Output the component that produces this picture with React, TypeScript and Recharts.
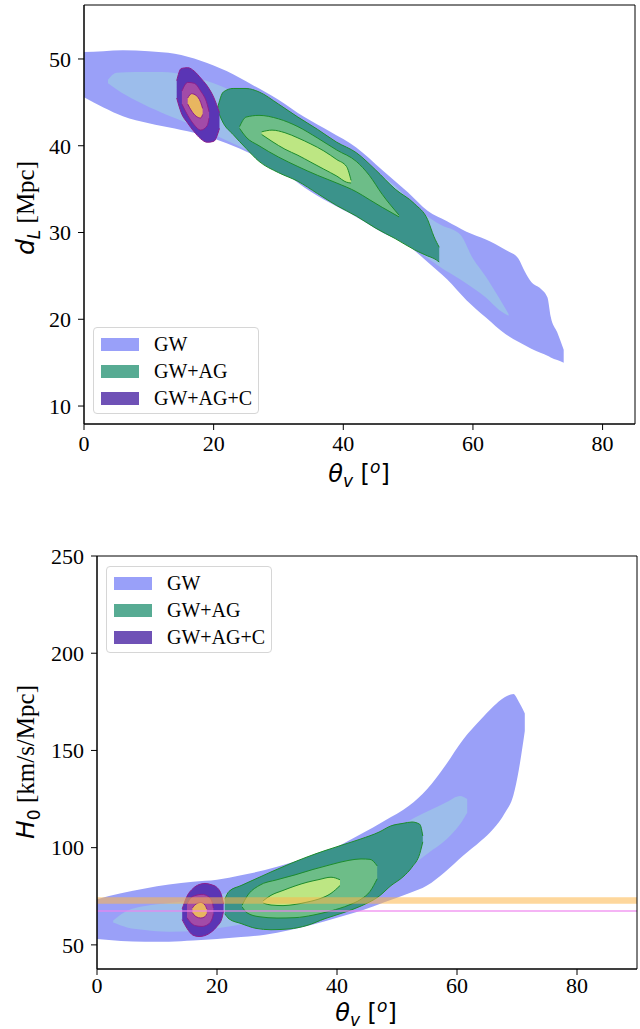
import React from "react";
import { ComposedChart, Area, XAxis, YAxis, ReferenceArea } from "recharts";

// each contour level: [theta_v, lower edge, upper edge]
type Pt = [number, number, number];

// ---- luminosity distance vs viewing angle ----
const gwOuterDL: Pt[] = [
  [0, 45.6, 50.8], [3, 44.4, 50.9], [6, 43.4, 51.0], [10, 42.6, 50.9], [14, 42.0, 50.6],
  [18, 41.3, 49.8], [22, 40.3, 48.6], [26, 39.0, 47.0], [30, 37.4, 45.3], [34, 35.2, 43.3],
  [38, 33.4, 41.6], [42, 31.8, 39.8], [46, 30.0, 37.2], [50, 28.5, 34.6], [53, 26.6, 32.5],
  [56, 24.6, 31.3], [59, 22.2, 30.1], [62, 20.2, 29.2], [65, 18.3, 28.0], [67, 17.4, 27.0],
  [68, 17.0, 25.5], [69, 16.6, 24.3], [70.5, 16.1, 23.5], [71.5, 15.8, 22.5], [72, 15.6, 20.3],
  [73, 15.3, 18.5], [74, 15.0, 16.5],
];
const gwInnerDL: Pt[] = [
  [3.7, 47.2, 47.6], [5, 46.5, 48.4], [8, 45.2, 48.5], [12, 43.8, 48.5], [16, 42.6, 48.1],
  [20, 41.3, 47.2], [24, 39.9, 45.9], [28, 38.3, 44.4], [32, 36.6, 42.8], [36, 35.0, 41.1],
  [40, 33.2, 39.3], [44, 31.4, 37.4], [48, 29.6, 35.4], [52, 27.6, 32.4], [55, 26.0, 30.9],
  [58, 24.6, 29.8], [60, 23.6, 27.0], [62, 22.5, 24.9], [64, 21.1, 22.5], [65.5, 20.4, 20.6],
];
const agOuterDL: Pt[] = [
  [20.6, 44.1, 44.3], [21.5, 42.6, 46.2], [23, 41.3, 46.6], [25, 39.7, 46.6], [27, 38.2, 46.2],
  [30, 36.9, 44.8], [33, 35.9, 43.3], [36, 34.5, 41.9], [39, 33.1, 40.4], [42, 31.9, 39.2],
  [45, 30.5, 37.2], [48, 29.3, 35.0], [51, 28.0, 33.3], [53, 27.3, 31.5], [54, 27.0, 29.5],
  [54.8, 26.6, 28.3],
];
const agMidDL: Pt[] = [
  [24, 42.0, 42.2], [25, 41.0, 43.3], [27, 40.0, 43.5], [30, 38.7, 43.1], [33, 37.6, 42.2],
  [36, 36.6, 40.9], [39, 35.7, 39.5], [42, 34.7, 38.2], [44, 33.8, 36.6], [46, 32.9, 34.4],
  [48.6, 31.8, 32.0],
];
const agInnerDL: Pt[] = [
  [27.4, 41.3, 41.6], [29, 40.5, 41.8], [31, 39.6, 41.5], [33, 38.9, 40.9], [35, 38.1, 40.2],
  [37, 37.3, 39.4], [39, 36.5, 38.4], [40.5, 35.8, 37.6], [41.2, 35.7, 36.0],
];
const cOuterDL: Pt[] = [
  [14.3, 45.5, 47.5], [15, 43.8, 48.9], [16, 42.6, 49.0], [17, 41.6, 48.6], [18, 40.8, 47.8],
  [19, 40.4, 46.9], [20, 40.5, 45.6], [20.9, 42.0, 43.8],
];
const cMidDL: Pt[] = [
  [15.1, 44.8, 46.3], [16, 43.5, 47.3], [17, 42.4, 47.2], [18, 41.8, 46.3], [19, 42.3, 44.8],
  [19.3, 43.2, 43.9],
];
const cInnerDL: Pt[] = [
  [16, 44.8, 45.5], [16.6, 44.0, 46.0], [17.3, 43.4, 45.8], [18, 43.2, 45.0], [18.3, 43.6, 44.3],
];

// ---- Hubble constant vs viewing angle ----
const gwOuterH0: Pt[] = [
  [0, 53.0, 73.5], [4, 52.0, 76.5], [8, 51.6, 79.0], [12, 51.6, 81.0], [16, 52.2, 82.5],
  [20, 53.0, 83.5], [24, 54.0, 85.8], [28, 55.2, 88.5], [32, 57.5, 92.0], [36, 60.5, 96.0],
  [40, 64.0, 100.5], [44, 67.5, 107.0], [48, 72.0, 114.0], [52, 76.5, 121.5], [55, 80.5, 130.0],
  [58, 87.5, 142.0], [61, 95.8, 155.5], [64, 103.5, 166.0], [66, 109.5, 172.5], [68, 118.0, 177.5],
  [69.4, 127.0, 179.0], [70.3, 140.0, 175.0], [71.3, 160.0, 169.0],
];
const gwInnerH0: Pt[] = [
  [2.7, 61.5, 62.5], [5, 59.0, 67.5], [8, 57.7, 70.0], [12, 56.8, 71.5], [16, 57.0, 73.0],
  [20, 58.5, 75.5], [24, 60.5, 78.5], [28, 62.5, 82.0], [32, 65.0, 86.5], [36, 68.0, 91.5],
  [40, 71.5, 96.5], [44, 75.5, 102.0], [47, 79.5, 106.0], [50, 85.0, 110.0], [53, 92.0, 115.5],
  [56, 99.0, 120.0], [58.3, 104.5, 123.5], [60.5, 112.0, 126.6], [61.7, 118.0, 125.0],
];
const agOuterH0: Pt[] = [
  [21.3, 66.0, 73.5], [22, 63.4, 77.5], [24, 61.0, 80.5], [26.5, 58.5, 84.0], [29, 57.8, 87.5],
  [32, 58.2, 91.5], [35, 60.0, 95.2], [38, 63.5, 98.5], [41, 66.5, 101.5], [44, 70.0, 104.5],
  [47, 75.0, 108.0], [49, 80.5, 111.2], [51, 85.0, 112.5], [52.5, 90.0, 113.2], [53.8, 97.0, 112.0],
  [54.3, 103.0, 106.0],
];
const agMidH0: Pt[] = [
  [24.2, 69.5, 70.5], [25, 66.5, 75.0], [27, 64.5, 80.5], [30, 63.8, 83.5], [33, 64.0, 86.0],
  [36, 65.3, 88.8], [39, 67.5, 91.3], [42, 70.5, 93.5], [44, 73.5, 94.2], [45.5, 77.5, 94.0],
  [46.7, 84.0, 90.6],
];
const agInnerH0: Pt[] = [
  [27.7, 71.5, 72.7], [29, 70.5, 75.5], [31, 70.2, 78.0], [33, 70.8, 80.3], [35, 72.0, 82.2],
  [37, 73.6, 83.6], [39, 76.5, 84.8], [40.5, 80.5, 83.5],
];
const cOuterH0: Pt[] = [
  [14.2, 63.0, 68.5], [15, 58.5, 75.0], [16, 55.0, 79.0], [17, 54.3, 81.0], [18, 54.8, 81.6],
  [19, 56.5, 81.0], [20, 59.5, 79.5], [20.8, 63.5, 75.0], [21.1, 67.5, 71.0],
];
const cMidH0: Pt[] = [
  [15, 64.0, 71.0], [15.6, 61.5, 74.0], [16.5, 59.8, 75.5], [17.5, 59.5, 76.0], [18.5, 60.5, 75.0],
  [19.2, 63.5, 72.0], [19.4, 66.0, 69.0],
];
const cInnerH0: Pt[] = [
  [15.9, 66.5, 69.0], [16.5, 64.5, 71.0], [17.3, 63.8, 71.8], [18, 64.5, 70.5], [18.3, 66.0, 68.5],
];

// local (SH0ES-like) and CMB (Planck-like) H0 bands
const h0BandLocal = [71.1, 74.5];
const h0BandCMB = [66.9, 68.0];

const xTicksDL = [0, 20, 40, 60, 80];
const yTicksDL = [10, 20, 30, 40, 50];
const xTicksH0 = [0, 20, 40, 60, 80];
const yTicksH0 = [50, 100, 150, 200, 250];

const legendNames = ["GW", "GW+AG", "GW+AG+C"];
const legendColors = ["#99a0f9", "#57ab93", "#6f51b6"];

// fill / edge colour for the 8 levels (GW 2, GW+AG 3, GW+AG+C 3)
const levelFills = ["#9aa0f8", "#9cbdeb", "#3b938b", "#6dbd88", "#bde683", "#5a35b5", "#a24ba8", "#e8b660"];
const levelEdges = ["none", "none", "#1c8c2c", "#1c8c2c", "#1c8c2c", "#8c1f8c", "#8c1f8c", "#8c1f8c"];

const toRows = (pts: Pt[]) => pts.map(([x, lo, hi]) => ({ x, r: [lo, hi] }));

const SERIF = "'Liberation Serif', 'DejaVu Serif', serif";
const SANS = "'DejaVu Sans', sans-serif";
const tickStyle = { fill: "#000", fontSize: 22, fontFamily: SERIF };

function Contours(levels: Pt[][]) {
  return levels.map((pts, i) => (
    <Area
      key={i}
      data={toRows(pts)}
      dataKey="r"
      type="monotone"
      fill={levelFills[i]}
      fillOpacity={1}
      stroke={levelEdges[i]}
      strokeWidth={levelEdges[i] === "none" ? 0 : 1}
      dot={false}
      activeDot={false}
      isAnimationActive={false}
    />
  ));
}

function LegendBox({ left, top }: { left: number; top: number }) {
  return (
    <div
      style={{
        position: "absolute",
        left,
        top,
        width: 164,
        height: 85,
        border: "1px solid #d6d6d6",
        borderRadius: 4,
        background: "rgba(255,255,255,0.85)",
        fontFamily: SERIF,
        fontSize: 20,
        color: "#000",
      }}
    >
      {legendNames.map((name, i) => (
        <div key={name} style={{ position: "absolute", left: 7, top: 8 + i * 27, height: 16, display: "flex", alignItems: "center" }}>
          <div style={{ width: 38, height: 13, background: legendColors[i] }} />
          <span style={{ marginLeft: 15, lineHeight: "16px" }}>{name}</span>
        </div>
      ))}
    </div>
  );
}

export default function App() {
  return (
    <div style={{ position: "absolute", left: 0, top: 0, width: 640, height: 1029, background: "#fff" }}>
      {/* d_L panel */}
      <div style={{ position: "absolute", left: 0, top: 0 }}>
        <ComposedChart width={640} height={500} margin={{ top: 5, right: 5, bottom: 0, left: 0 }}>
          <XAxis
            type="number"
            dataKey="x"
            domain={[0, 85]}
            ticks={xTicksDL}
            allowDataOverflow
            height={76}
            tick={tickStyle}
            tickSize={6}
            tickMargin={5}
            stroke="#000"
          />
          <YAxis
            type="number"
            domain={[7.93, 56.22]}
            ticks={yTicksDL}
            allowDataOverflow
            width={84}
            tick={tickStyle}
            tickSize={6}
            tickMargin={7}
            stroke="#000"
          />
          {Contours([gwOuterDL, gwInnerDL, agOuterDL, agMidDL, agInnerDL, cOuterDL, cMidDL, cInnerDL])}
          <ReferenceArea x1={0} x2={85} y1={7.93} y2={56.22} fill="none" stroke="#000" strokeWidth={1} ifOverflow="visible" />
        </ComposedChart>
      </div>
      <LegendBox left={93} top={327} />

      {/* H0 panel */}
      <div style={{ position: "absolute", left: 0, top: 500 }}>
        <ComposedChart width={640} height={529} margin={{ top: 56, right: 3, bottom: 0, left: 0 }}>
          <XAxis
            type="number"
            dataKey="x"
            domain={[0, 90]}
            ticks={xTicksH0}
            allowDataOverflow
            height={60}
            tick={tickStyle}
            tickSize={6}
            tickMargin={2}
            stroke="#000"
          />
          <YAxis
            type="number"
            domain={[37.6, 250]}
            ticks={yTicksH0}
            allowDataOverflow
            width={97}
            tick={tickStyle}
            tickSize={6}
            tickMargin={7}
            stroke="#000"
          />
          {Contours([gwOuterH0, gwInnerH0, agOuterH0, agMidH0, agInnerH0, cOuterH0, cMidH0, cInnerH0])}
          <ReferenceArea y1={h0BandLocal[0]} y2={h0BandLocal[1]} fill="#fdb64a" fillOpacity={0.55} ifOverflow="visible" />
          <ReferenceArea y1={h0BandCMB[0]} y2={h0BandCMB[1]} fill="#ee82ee" fillOpacity={0.6} ifOverflow="visible" />
          <ReferenceArea x1={0} x2={90} y1={37.6} y2={250} fill="none" stroke="#000" strokeWidth={1} ifOverflow="visible" />
        </ComposedChart>
      </div>
      <LegendBox left={106} top={566} />

      {/* axis titles */}
      <svg width={640} height={1029} style={{ position: "absolute", left: 0, top: 0, pointerEvents: "none" }}>
        <text x={359} y={482} textAnchor="middle" fontFamily={SANS} fontSize={24}>
          <tspan fontStyle="italic">θ</tspan>
          <tspan fontStyle="italic" fontSize={17} dy={5}>v</tspan>
          <tspan dy={-5}> [</tspan>
          <tspan fontStyle="italic" fontSize={17} dy={-9}>o</tspan>
          <tspan dy={9}>]</tspan>
        </text>
        <text transform="rotate(-90)" x={-208} y={34} textAnchor="middle" fontSize={25}>
          <tspan fontFamily={SANS} fontStyle="italic">d</tspan>
          <tspan fontFamily={SANS} fontStyle="italic" fontSize={17} dy={6}>L</tspan>
          <tspan fontFamily={SERIF} dy={-6}> [Mpc]</tspan>
        </text>
        <text x={366} y={1021} textAnchor="middle" fontFamily={SANS} fontSize={24}>
          <tspan fontStyle="italic">θ</tspan>
          <tspan fontStyle="italic" fontSize={17} dy={5}>v</tspan>
          <tspan dy={-5}> [</tspan>
          <tspan fontStyle="italic" fontSize={17} dy={-9}>o</tspan>
          <tspan dy={9}>]</tspan>
        </text>
        <text transform="rotate(-90)" x={-762} y={34} textAnchor="middle" fontSize={25}>
          <tspan fontFamily={SANS} fontStyle="italic">H</tspan>
          <tspan fontFamily={SANS} fontSize={17} dy={6}>0</tspan>
          <tspan fontFamily={SERIF} dy={-6}> [km/s/Mpc]</tspan>
        </text>
      </svg>
    </div>
  );
}
